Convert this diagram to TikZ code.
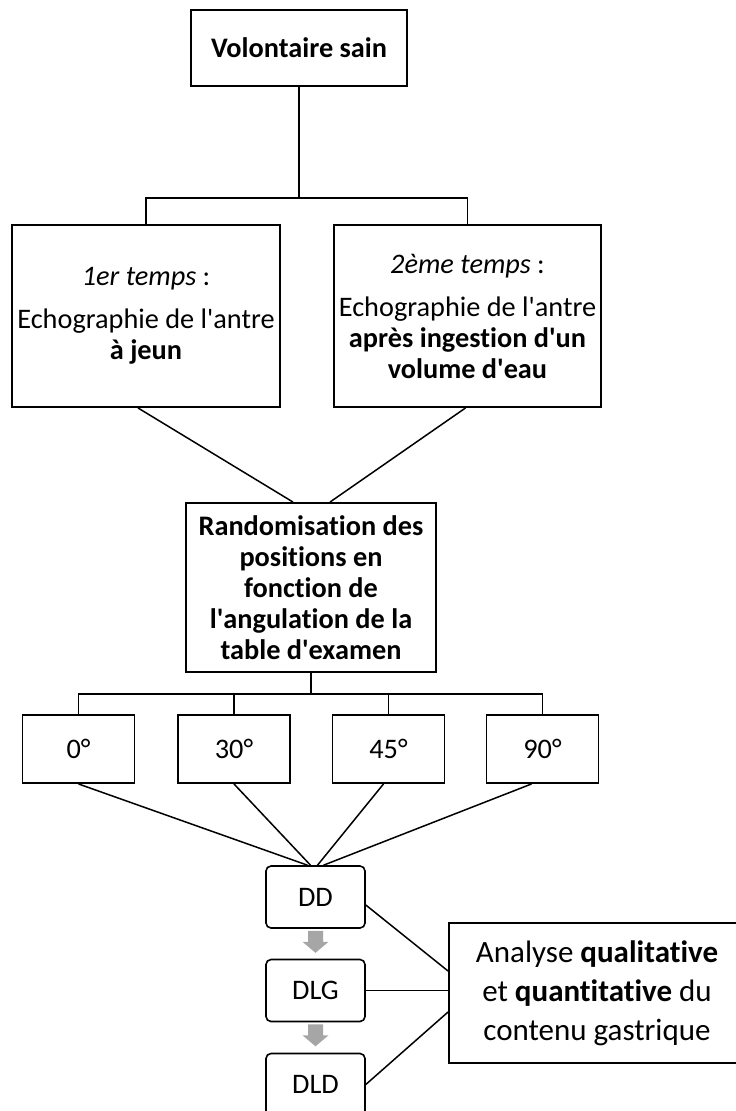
\documentclass[tikz,border=0pt]{standalone}
\usepackage{fontspec}
\setmainfont{Carlito}[Ligatures=NoCommon]
\newcommand{\ap}{\textquotesingle}
\definecolor{arrowgray}{HTML}{A6A6A6}
\tikzset{
  box/.style={draw,line width=1.9pt,align=center,inner sep=0pt,font=\fontsize{28.3}{31}\selectfont},
  posbox/.style={box,line width=1.6pt,rounded corners=5pt,minimum width=99pt,minimum height=62pt},
  link/.style={line width=1.5pt}
}

\begin{document}
\begin{tikzpicture}[x=1pt,y=-1pt]
      % page frame 736 x 1111, y going down
      \useasboundingbox (0,0) rectangle (736,1111);
      \clip (0,0) rectangle (736,1111);
      \fill[white] (0,0) rectangle (736,1111);
      % top of the tree
      \node[box,minimum width=216pt,minimum height=76pt,font=\fontsize{28.3}{31}\selectfont\bfseries] (vol) at (299,48) {Volontaire sain};
      \node[box,minimum width=268pt,minimum height=182pt] (t1) at (146,316) {\textit{1er temps} :\\[12pt] Echographie de l\ap antre\\ \textbf{à jeun}};
      \node[box,minimum width=267pt,minimum height=182pt] (t2) at (467.5,316) {\textit{2ème temps} :\\[12pt] Echographie de l\ap antre\\ \textbf{après ingestion d\ap un}\\ \textbf{volume d\ap eau}};
      \node[box,minimum width=250pt,minimum height=169pt,font=\fontsize{28.3}{31}\selectfont\bfseries] (rand) at (311,587.5) {Randomisation des\\ positions en\\ fonction de\\ l\ap angulation de la\\ table d\ap examen};
      % angles of the table
      \foreach \name/\x/\deg in {a0/78.5/0°,a30/234/30°,a45/388.5/45°,a90/542.5/90°}{\node[box,minimum width=112pt,minimum height=68pt] (\name) at (\x,749) {\deg};}
      % positions
      \node[posbox] (dd) at (315.5,897) {DD};
      \node[posbox] (dlg) at (315.5,990.5) {DLG};
      \node[posbox] (dld) at (315.5,1084.5) {DLD};
      \node[box,minimum width=296pt,minimum height=140pt,font=\fontsize{31}{39}\selectfont] (ana) at (597,993) {Analyse \textbf{qualitative}\\ et \textbf{quantitative} du\\ contenu gastrique};
      % tree connectors
      \draw[link] (vol.south) -- ++(0,111) coordinate (fork1);
      \draw[link] (t1.north) |- (fork1) -| (t2.north);
      \draw[link] ([xshift=-8pt]t1.south) -- ([xshift=-18pt]rand.north);
      \draw[link] ([xshift=-2pt]t2.south) -- ([xshift=19pt]rand.north);
      \draw[link] (rand.south) -- ++(0,21) coordinate (fork2);
      \draw[link] (a0.north) |- (fork2) -| (a90.north);
      \draw[link] (a30.north) -- (a30.north |- fork2);
      \draw[link] (a45.north) -- (a45.north |- fork2);
      % angles -> DD
      \foreach \name/\s/\e in {a0/0/-8,a30/0/-5,a45/-5/2,a90/-11/8}{\draw[link] ([xshift=\s pt]\name.south) -- ([xshift=\e pt]dd.north);}
      % positions -> analyse
      \draw[link] ([yshift=-8pt]dd.east) -- ([yshift=22pt]ana.west);
      \draw[link] (dlg.east) -- (dlg.east -| ana.west);
      \draw[link] (dld.east) -- ([yshift=-19pt]ana.west);
      % grey arrows between positions
      \foreach \a in {dd,dlg}{\fill[arrowgray] ([xshift=-7.5pt,yshift=-2pt]\a.south) -- ++(15,0) -- ++(0,11) -- ++(5.5,0) -- ++(-13,11) -- ++(-13,-11) -- ++(5.5,0) -- cycle;}
    \end{tikzpicture}
\end{document}
